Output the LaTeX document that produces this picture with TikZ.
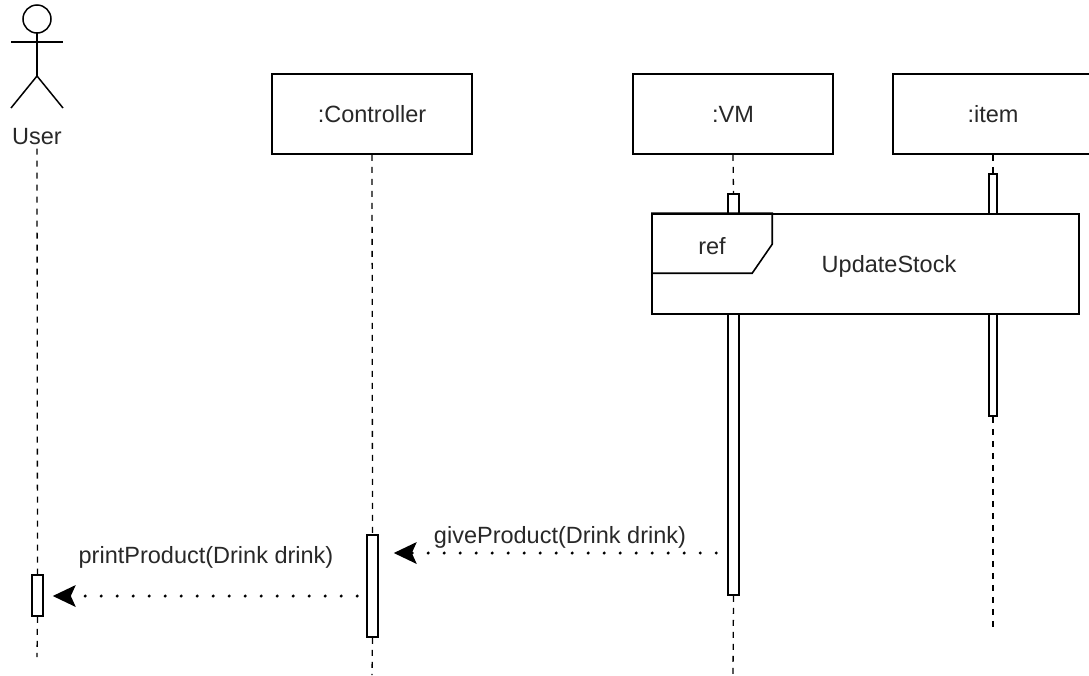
\documentclass[tikz,border=0pt]{standalone}
\usepackage{fontspec}
\setmainfont{Liberation Sans}
\usetikzlibrary{arrows.meta}
\definecolor{txtgray}{RGB}{40,40,40}

\begin{document}
\begin{tikzpicture}  % ------ VM : giveProduct -------------------
      [x=1pt,y=-1pt,
       every node/.style={font=\fontsize{23.5}{28}\selectfont, text=txtgray},
       head/.style={draw, line width=1.6pt, minimum width=200pt, minimum height=80pt, inner sep=0pt},
       act/.style={draw, fill=white, line width=1.6pt, minimum width=11pt, inner sep=0pt},
       lifeline/.style={line width=1.3pt, dash pattern=on 6pt off 6pt},
       actor/.style={line width=1.5pt},
       msg/.style={line width=3.4pt, line cap=round, dash pattern=on 0pt off 16pt,
                   -{Stealth[length=23pt,width=22pt,inset=5pt,line width=0pt]}}]

    \useasboundingbox (0,0) rectangle (1089,675);

    \coordinate (giveY) at (0,553);
    \coordinate (printY) at (0,596);
    \coordinate (userEnd) at (37,657);
    \coordinate (ctrlEnd) at (372,675);
    \coordinate (vmEnd) at (733,675);
    \coordinate (itemEnd) at (993,630);

    % acteur
    \draw[actor] (37,19) circle[radius=14pt];
    \draw[actor] (11,42) -- (63,42);
    \draw[actor] (37,33) -- (37,76);
    \draw[actor] (11,108) -- (37,76) -- (63,108);
    \node (user) at (37,137) {User};

    % tetes
    \node[head] (ctrl) at (372,114) {:Controller};
    \node[head] (vm) at (733,114) {:VM};
    \node[head] (item) at (993,114) {:item};

    % activations
    \node[act, minimum height=41pt] (userAct) at (37.5,595.5) {};
    \node[act, minimum height=102pt] (ctrlAct) at (372.5,586) {};
    \node[act, minimum height=401pt] (vmAct) at (733.5,394.5) {};
    \node[act, minimum width=8pt, minimum height=242pt] (itemAct) at (993,295) {};

    % lignes de vie
    \draw[lifeline] (user.south) -- (userAct.north);
    \draw[lifeline] (userAct.south) -- (userEnd);
    \draw[lifeline] (ctrl.south) -- (ctrlAct.north);
    \draw[lifeline] (ctrlAct.south) -- (ctrlEnd);
    \draw[lifeline] (vm.south) -- (vmAct.north);
    \draw[lifeline] (vmAct.south) -- (vmEnd);
    \draw[lifeline] (item.south) -- (itemAct.north);
    \draw[lifeline] (itemAct.south) -- (itemEnd);

    % cadre ref
    \node[draw, fill=white, line width=1.6pt, minimum width=427pt, minimum height=100pt, inner sep=0pt] (upd) at (865.5,264) {};
    \draw[line width=1.6pt, line join=miter] (upd.north west) -| ++(121,31) -- ++(-20,29) -- ++(-101,0);
    \node (refTag) at (712,246) {ref};
    \node (refName) at (889,266) {UpdateStock};

    % messages
    \draw[msg, shorten <=11pt, shorten >=15pt] (vmAct.west |- giveY) -- (ctrlAct.east |- giveY);
    \node (giveLbl) at (560,537) {giveProduct(Drink drink)};
    \draw[msg, shorten <=9pt, shorten >=9pt] (ctrlAct.west |- printY) -- (userAct.east |- printY);
    \node (printLbl) at (206,557) {printProduct(Drink drink)};
\end{tikzpicture}
\end{document}
